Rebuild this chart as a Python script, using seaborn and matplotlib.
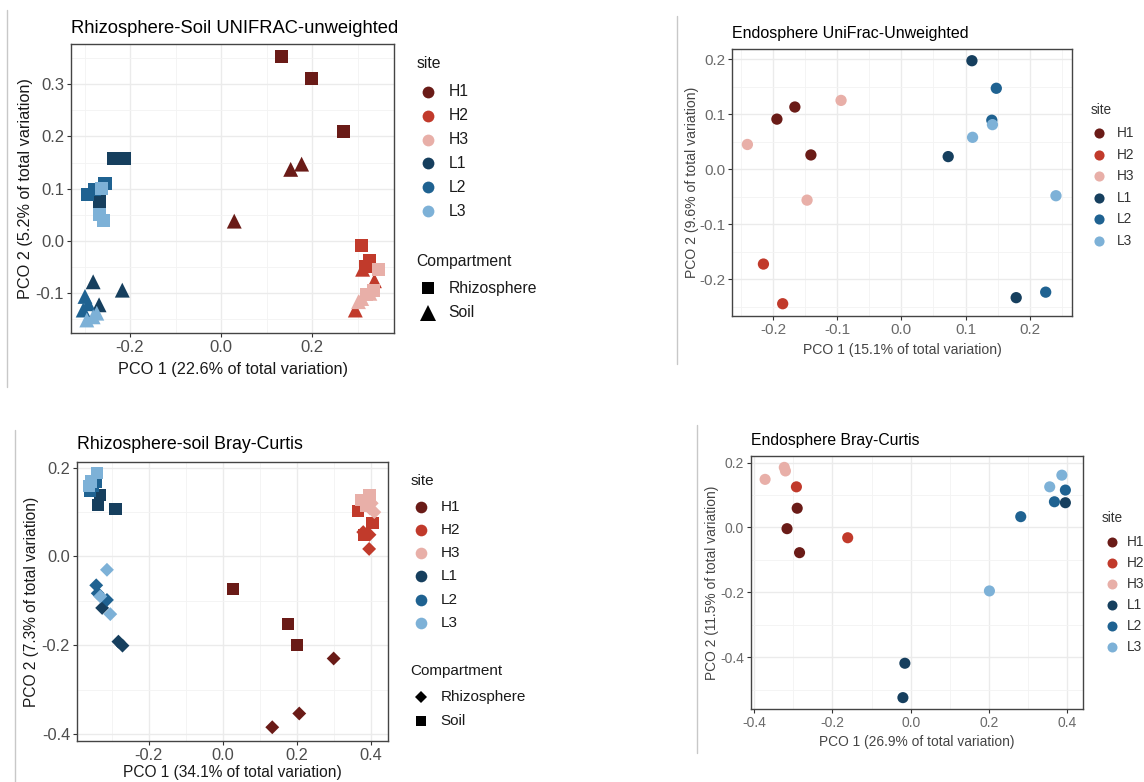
import matplotlib
matplotlib.use("Agg")
import matplotlib.pyplot as plt
import seaborn as sns
import pandas as pd
from matplotlib.lines import Line2D
from matplotlib.ticker import MultipleLocator, FuncFormatter

sns.set_style("white")
plt.rcParams["font.family"] = ["Liberation Sans", "DejaVu Sans"]
plt.rcParams["axes.unicode_minus"] = False

W, H = 1144, 782

SITES = ["H1", "H2", "H3", "L1", "L2", "L3"]
COLORS = ["#6A1B17", "#C13A2B", "#E8AFA8", "#163F5E", "#1F6291", "#7DB1D7"]
PALETTE = dict(zip(SITES, COLORS))

# ---------------- Panel 1: Rhizosphere-Soil UNIFRAC-unweighted ----------------
P1_SITE = (["H1"] * 6 + ["H2"] * 6 + ["H3"] * 6 + ["L1"] * 6 + ["L2"] * 6 + ["L3"] * 6)
P1_COMP = (["Rhizosphere"] * 3 + ["Soil"] * 3) * 6
P1_PCO1 = [0.132, 0.198, 0.270, 0.153, 0.177, 0.029,
           0.308, 0.326, 0.318, 0.311, 0.337, 0.295,
           0.347, 0.336, 0.320, 0.302, 0.309, 0.327,
           -0.237, -0.213, -0.267, -0.281, -0.217, -0.268,
           -0.294, -0.277, -0.255, -0.299, -0.303, -0.292,
           -0.262, -0.267, -0.259, -0.281, -0.273, -0.295]
P1_PCO2 = [0.352, 0.310, 0.210, 0.137, 0.147, 0.038,
           -0.008, -0.038, -0.048, -0.054, -0.076, -0.132,
           -0.055, -0.094, -0.103, -0.116, -0.110, -0.100,
           0.157, 0.157, 0.075, -0.078, -0.094, -0.122,
           0.088, 0.098, 0.110, -0.106, -0.132, -0.120,
           0.101, 0.050, 0.040, -0.145, -0.138, -0.151]

# ---------------- Panel 2: Endosphere UniFrac-Unweighted ----------------
P2_SITE = ["H1"] * 3 + ["H2"] * 2 + ["H3"] * 3 + ["L1"] * 3 + ["L2"] * 3 + ["L3"] * 3
P2_PCO1 = [-0.194, -0.166, -0.141,
           -0.215, -0.185,
           -0.240, -0.094, -0.147,
           0.110, 0.073, 0.179,
           0.148, 0.141, 0.225,
           0.111, 0.142, 0.241]
P2_PCO2 = [0.091, 0.113, 0.026,
           -0.172, -0.244,
           0.045, 0.125, -0.056,
           0.197, 0.023, -0.233,
           0.147, 0.089, -0.223,
           0.058, 0.081, -0.048]

# ---------------- Panel 3: Rhizosphere-soil Bray-Curtis ----------------
P3_SITE = (["H1"] * 6 + ["H2"] * 6 + ["H3"] * 6 + ["L1"] * 6 + ["L2"] * 6 + ["L3"] * 6)
P3_COMP = (["Rhizosphere"] * 3 + ["Soil"] * 3) * 6
P3_PCO1 = [0.300, 0.207, 0.134, 0.029, 0.177, 0.200,
           0.396, 0.397, 0.380, 0.366, 0.405, 0.382,
           0.410, 0.403, 0.398, 0.397, 0.375, 0.388,
           -0.326, -0.282, -0.271, -0.331, -0.338, -0.290,
           -0.342, -0.338, -0.313, -0.342, -0.360, -0.350,
           -0.313, -0.331, -0.304, -0.340, -0.356, -0.362]
P3_PCO2 = [-0.230, -0.354, -0.385, -0.074, -0.152, -0.200,
           0.017, 0.049, 0.055, 0.102, 0.075, 0.048,
           0.100, 0.120, 0.108, 0.139, 0.128, 0.113,
           -0.116, -0.192, -0.201, 0.139, 0.117, 0.107,
           -0.065, -0.083, -0.098, 0.169, 0.147, 0.160,
           -0.030, -0.090, -0.130, 0.188, 0.169, 0.158]

# ---------------- Panel 4: Endosphere Bray-Curtis ----------------
P4_SITE = ["H1"] * 3 + ["H2"] * 2 + ["H3"] * 3 + ["L1"] * 3 + ["L2"] * 3 + ["L3"] * 3
P4_PCO1 = [-0.290, -0.316, -0.284,
           -0.292, -0.161,
           -0.372, -0.323, -0.320,
           0.395, -0.015, -0.020,
           0.395, 0.367, 0.281,
           0.386, 0.355, 0.201]
P4_PCO2 = [0.059, -0.004, -0.078,
           0.125, -0.032,
           0.148, 0.185, 0.174,
           0.076, -0.419, -0.525,
           0.115, 0.079, 0.033,
           0.161, 0.125, -0.196]

TITLES = ["Rhizosphere-Soil UNIFRAC-unweighted", "Endosphere UniFrac-Unweighted",
          "Rhizosphere-soil Bray-Curtis", "Endosphere Bray-Curtis"]
XLABELS = ["PCO 1 (22.6% of total variation)", "PCO 1 (15.1% of total variation)",
           "PCO 1 (34.1% of total variation)", "PCO 1 (26.9% of total variation)"]
YLABELS = ["PCO 2 (5.2% of total variation)", "PCO 2 (9.6% of total variation)",
           "PCO 2 (7.3% of total variation)", "PCO 2 (11.5% of total variation)"]

fig = plt.figure(figsize=(W / 100, H / 100), dpi=100)
fig.patch.set_facecolor("white")


def fx(x):
    return x / W


def fy(y):
    return 1 - y / H


def rect(l, t, r, b):
    return [fx(l), fy(b), (r - l) / W, (b - t) / H]


fmt = FuncFormatter(lambda v, p: "0.0" if abs(v) < 1e-9 else f"{v:.1f}")


def style(ax, xlim, ylim, xstep, ystep, tick_fs, tick_col):
    ax.set_xlim(xlim)
    ax.set_ylim(ylim)
    ax.xaxis.set_major_locator(MultipleLocator(xstep))
    ax.yaxis.set_major_locator(MultipleLocator(ystep))
    ax.xaxis.set_minor_locator(MultipleLocator(xstep / 2))
    ax.yaxis.set_minor_locator(MultipleLocator(ystep / 2))
    ax.xaxis.set_major_formatter(fmt)
    ax.yaxis.set_major_formatter(fmt)
    ax.grid(which="major", color="#EBEBEB", lw=1.0)
    ax.grid(which="minor", color="#F3F3F3", lw=0.6)
    ax.set_axisbelow(True)
    ax.tick_params(which="minor", length=0)
    ax.tick_params(which="major", length=3, width=0.8, color="#333333",
                   labelsize=tick_fs, labelcolor=tick_col, pad=2,
                   bottom=True, left=True)
    for sp in ax.spines.values():
        sp.set_color("#444444")
        sp.set_linewidth(1.0)


def labels(ax, i, tfs, lfs, lcol, ty, xly, yly):
    ax.text(0, 1 + ty, TITLES[i], transform=ax.transAxes, ha="left", va="center",
            fontsize=tfs, color="black")
    ax.set_xlabel(XLABELS[i], fontsize=lfs, color=lcol)
    ax.set_ylabel(YLABELS[i], fontsize=lfs, color=lcol)
    ax.xaxis.set_label_coords(0.5, xly)
    ax.xaxis.label.set_va("center")
    ax.yaxis.set_label_coords(yly, 0.5)
    ax.yaxis.label.set_va("center")


def legend_block(title, items, xt, yt, xm, xl, y0, dy, fs, col):
    fig.text(fx(xt), fy(yt), title, ha="left", va="center", fontsize=fs, color=col)
    for k, (lab, mk, c, ms) in enumerate(items):
        y = y0 + k * dy
        fig.add_artist(Line2D([fx(xm)], [fy(y)], marker=mk, color=c, markersize=ms,
                              linestyle="none", markeredgewidth=0,
                              transform=fig.transFigure))
        fig.text(fx(xl), fy(y), lab, ha="left", va="center", fontsize=fs, color=col)


# ---- Panel 1
ax1 = fig.add_axes(rect(71, 44, 394, 333))
df1 = pd.DataFrame({"PCO1": P1_PCO1, "PCO2": P1_PCO2, "site": P1_SITE, "Compartment": P1_COMP})
sns.scatterplot(data=df1, x="PCO1", y="PCO2", hue="site", hue_order=SITES, palette=PALETTE,
                style="Compartment", markers={"Rhizosphere": "s", "Soil": "^"},
                size="Compartment", sizes={"Rhizosphere": 88, "Soil": 115},
                linewidth=0, legend=False, ax=ax1)
style(ax1, (-0.3297, 0.380), (-0.1759, 0.3767), 0.2, 0.1, 12, "#4D4D4D")
labels(ax1, 0, 13.2, 11.7, "#1A1A1A", 0.054, -0.128, -0.142)
legend_block("site", [(s, "o", c, 8.5) for s, c in zip(SITES, COLORS)],
             416.7, 64, 428.3, 448.3, 91.7, 23.9, 11.3, "#1A1A1A")
legend_block("Compartment", [("Rhizosphere", "s", "black", 8.3), ("Soil", "^", "black", 11)],
             416.7, 261.7, 428, 448.3, 288.3, 24.4, 11.3, "#1A1A1A")

# ---- Panel 2
ax2 = fig.add_axes(rect(732, 48.6, 1072, 316.4))
df2 = pd.DataFrame({"PCO1": P2_PCO1, "PCO2": P2_PCO2, "site": P2_SITE})
sns.scatterplot(data=df2, x="PCO1", y="PCO2", hue="site", hue_order=SITES, palette=PALETTE,
                s=66, linewidth=0, legend=False, ax=ax2)
style(ax2, (-0.264, 0.266), (-0.267, 0.219), 0.1, 0.1, 11, "#6A6A6A")
labels(ax2, 1, 11.5, 10.1, "#444444", 0.058, -0.125, -0.118)
legend_block("site", [(s, "o", c, 7.3) for s, c in zip(SITES, COLORS)],
             1090.7, 110, 1099, 1117.3, 133.3, 21.5, 9.8, "#333333")

# ---- Panel 3
ax3 = fig.add_axes(rect(77, 462, 388, 741))
df3 = pd.DataFrame({"PCO1": P3_PCO1, "PCO2": P3_PCO2, "site": P3_SITE, "Compartment": P3_COMP})
sns.scatterplot(data=df3, x="PCO1", y="PCO2", hue="site", hue_order=SITES, palette=PALETTE,
                style="Compartment", markers={"Rhizosphere": "D", "Soil": "s"},
                size="Compartment", sizes={"Rhizosphere": 50, "Soil": 76},
                linewidth=0, legend=False, ax=ax3)
style(ax3, (-0.394, 0.447), (-0.416, 0.213), 0.2, 0.2, 11.8, "#4D4D4D")
labels(ax3, 2, 12.8, 11.2, "#1A1A1A", 0.061, -0.114, -0.146)
legend_block("site", [(s, "o", c, 8.4) for s, c in zip(SITES, COLORS)],
             410.7, 480.7, 420.7, 440.7, 506.7, 23.2, 11, "#1A1A1A")
legend_block("Compartment", [("Rhizosphere", "D", "black", 6.0), ("Soil", "s", "black", 7.5)],
             410.7, 670.7, 420.7, 440.7, 697.3, 23.4, 11, "#1A1A1A")

# ---- Panel 4
ax4 = fig.add_axes(rect(751, 455.7, 1083, 709.3))
df4 = pd.DataFrame({"PCO1": P4_PCO1, "PCO2": P4_PCO2, "site": P4_SITE})
sns.scatterplot(data=df4, x="PCO1", y="PCO2", hue="site", hue_order=SITES, palette=PALETTE,
                s=64, linewidth=0, legend=False, ax=ax4)
style(ax4, (-0.408, 0.440), (-0.561, 0.221), 0.2, 0.2, 10, "#6A6A6A")
labels(ax4, 3, 11.3, 9.9, "#444444", 0.059, -0.128, -0.117)
legend_block("site", [(s, "o", c, 7.2) for s, c in zip(SITES, COLORS)],
             1101.7, 518.3, 1111.7, 1126.7, 541.7, 21.0, 9.8, "#333333")

# thin separators (borders of the pasted panels)
for x, y0, y1 in [(7, 10, 387), (677, 16, 364), (15, 430, 782), (697, 425, 753)]:
    fig.add_artist(Line2D([fx(x), fx(x)], [fy(y0), fy(y1)], color="#C8C8C8", lw=1.0,
                          transform=fig.transFigure))

fig.savefig("out.png", dpi=100, facecolor="white")
